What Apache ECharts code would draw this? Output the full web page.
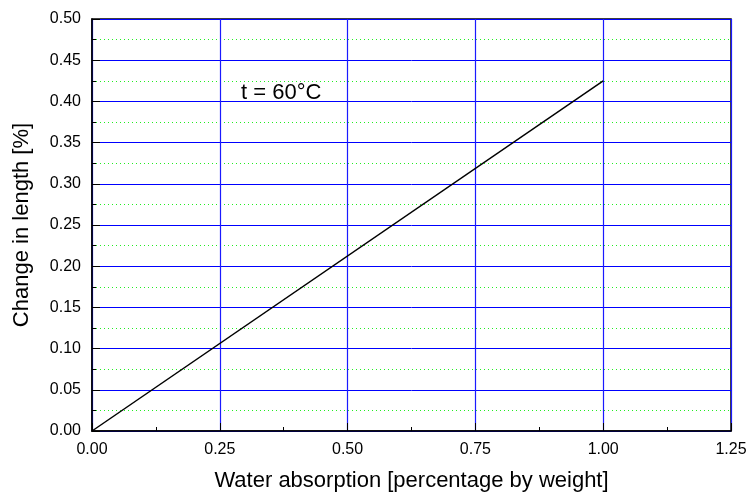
<!DOCTYPE html>
<html>
<head>
<meta charset="utf-8">
<script src="https://cdn.jsdelivr.net/npm/echarts@6/dist/echarts.min.js"></script>
<style>
  html, body { margin: 0; padding: 0; background: #fff; }
  #chart { width: 749px; height: 493px; }
</style>
</head>
<body>
<div id="chart"></div>
<script>
// water absorption [% by weight] vs change in length [%]
const absorption = [0, 1.0]
const lengthChange = [0, 0.425]
const xTicks = [0, 1.25, 0.25]   // min, max, interval
const yTicks = [0, 0.5, 0.05]
const note = 't = 60°C'

const chart = echarts.init(document.getElementById('chart'))
const font = '"Liberation Sans", Arial, sans-serif'

const option = {
  animation: false,
  grid: {
    left: 92, right: 18, top: 19, bottom: 62,
    outerBoundsMode: 'none',
    show: true, borderColor: '#000', borderWidth: 1.5
  },
  xAxis: {
    type: 'value',
    min: xTicks[0], max: xTicks[1], interval: xTicks[2],
    name: 'Water absorption [percentage by weight]',
    nameLocation: 'middle', nameGap: 39,
    nameTextStyle: { fontFamily: font, fontSize: 22, color: '#000' },
    axisLine: { lineStyle: { color: '#000', width: 1.5 } },
    axisTick: { inside: true, length: 8, lineStyle: { color: '#000' } },
    minorTick: { show: true, splitNumber: 2, length: 4, lineStyle: { color: '#000' } },
    axisLabel: {
      fontFamily: font, fontSize: 16, color: '#000', margin: 11,
      formatter: v => v.toFixed(2)
    },
    splitLine: { show: true, lineStyle: { color: '#1a1aff', width: 1.2 } }
  },
  yAxis: {
    type: 'value',
    min: yTicks[0], max: yTicks[1], interval: yTicks[2],
    name: 'Change in length [%]',
    nameLocation: 'middle', nameGap: 59,
    nameTextStyle: { fontFamily: font, fontSize: 22, color: '#000' },
    axisLine: { show: true, lineStyle: { color: '#000', width: 1.5 } },
    axisTick: { show: true, inside: true, length: 8, lineStyle: { color: '#000' } },
    minorTick: { show: true, splitNumber: 2, length: 4, lineStyle: { color: '#000' } },
    axisLabel: {
      fontFamily: font, fontSize: 16, color: '#000', margin: 11,
      formatter: v => v.toFixed(2)
    },
    splitLine: { show: true, lineStyle: { color: '#0000ff', width: 1 } },
    minorSplitLine: { show: true, lineStyle: { color: '#22ee22', width: 1, type: [1, 3] } }
  },
  graphic: [{
    type: 'text', left: 241, top: 82,
    style: { text: note, fontFamily: font, fontSize: 22, fill: '#000' }
  }],
  series: [{
    type: 'line',
    data: absorption.map((x, i) => [x, lengthChange[i]]),
    showSymbol: false,
    lineStyle: { color: '#000', width: 1.5 }
  }]
}
chart.setOption(option)
</script>
</body>
</html>
